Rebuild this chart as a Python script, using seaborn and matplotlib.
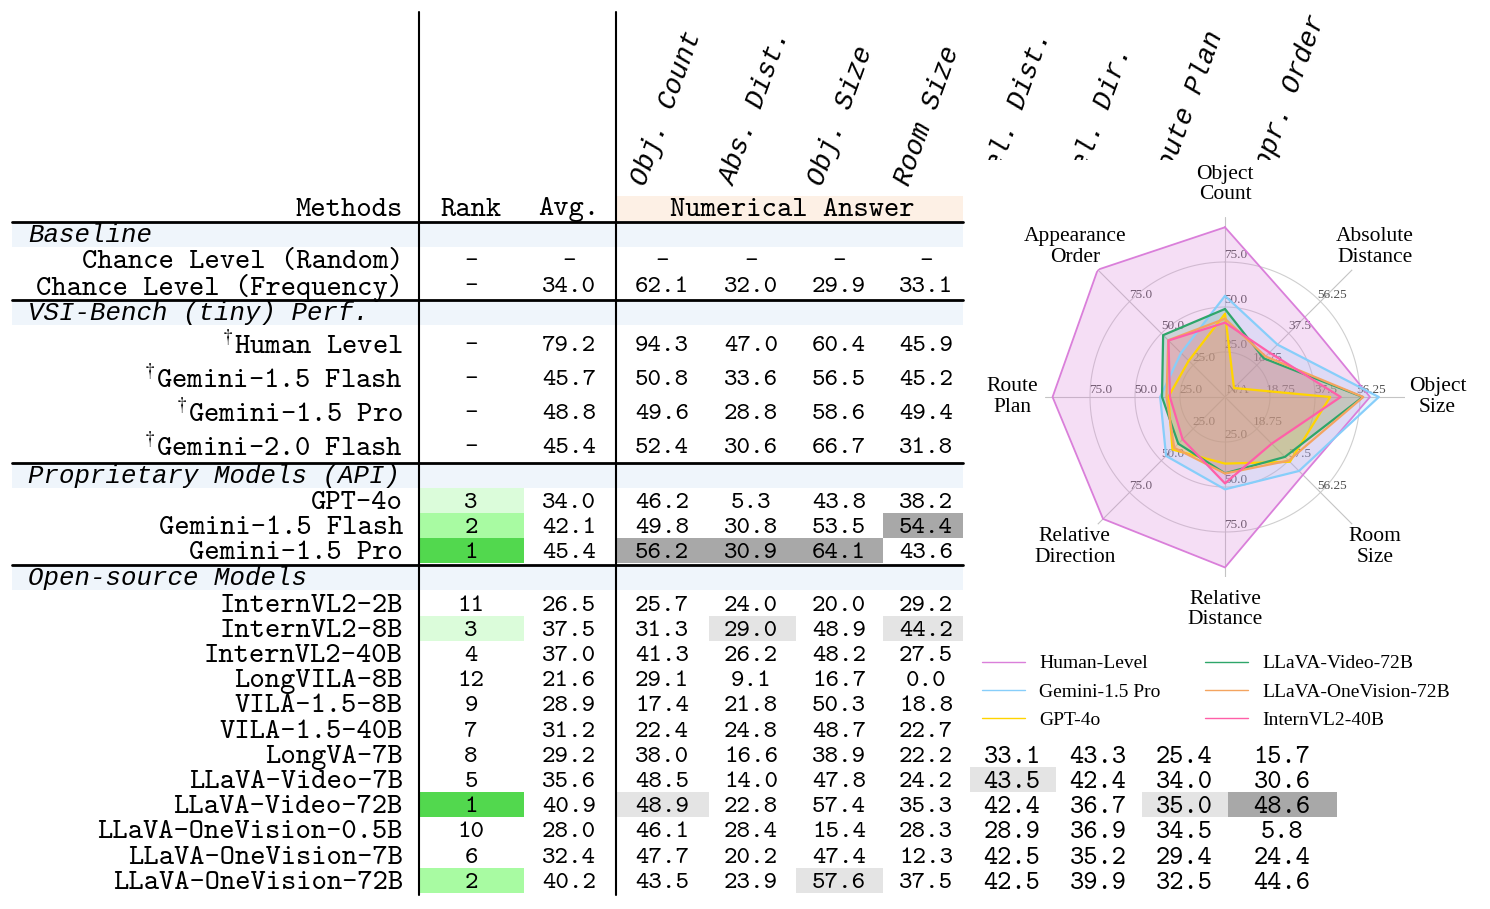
import numpy as np
import matplotlib
matplotlib.use("Agg")
import matplotlib.pyplot as plt
import seaborn as sns
from matplotlib.patches import Rectangle

sns.set_theme(style="white")
plt.rcParams["font.family"] = ["cmtt10", "DejaVu Serif"]
plt.rcParams["text.color"] = "black"
plt.rcParams["mathtext.fontset"] = "cm"
plt.rcParams["axes.unicode_minus"] = False
plt.rcParams["axes.formatter.use_mathtext"] = True

# ---------------- table data ----------------
task_headers = ["Obj. Count", "Abs. Dist.", "Obj. Size", "Room Size",
                "Rel. Dist.", "Rel. Dir.", "Route Plan", "Appr. Order"]

baseline_methods = ["Chance Level (Random)", "Chance Level (Frequency)"]
baseline_rank = [None, None]
baseline_avg = [None, 34.0]
baseline_scores = [[None, None, None, None], [62.1, 32.0, 29.9, 33.1]]

tiny_methods = ["Human Level", "Gemini-1.5 Flash", "Gemini-1.5 Pro", "Gemini-2.0 Flash"]
tiny_rank = [None, None, None, None]
tiny_avg = [79.2, 45.7, 48.8, 45.4]
tiny_scores = [[94.3, 47.0, 60.4, 45.9], [50.8, 33.6, 56.5, 45.2],
               [49.6, 28.8, 58.6, 49.4], [52.4, 30.6, 66.7, 31.8]]

api_methods = ["GPT-4o", "Gemini-1.5 Flash", "Gemini-1.5 Pro"]
api_rank = [3, 2, 1]
api_avg = [34.0, 42.1, 45.4]
api_scores = [[46.2, 5.3, 43.8, 38.2], [49.8, 30.8, 53.5, 54.4], [56.2, 30.9, 64.1, 43.6]]
api_marks = [[0, 0, 0, 0], [0, 0, 0, 2], [2, 2, 2, 0]]

open_methods = ["InternVL2-2B", "InternVL2-8B", "InternVL2-40B", "LongVILA-8B",
                "VILA-1.5-8B", "VILA-1.5-40B", "LongVA-7B", "LLaVA-Video-7B",
                "LLaVA-Video-72B", "LLaVA-OneVision-0.5B", "LLaVA-OneVision-7B",
                "LLaVA-OneVision-72B"]
open_rank = [11, 3, 4, 12, 9, 7, 8, 5, 1, 10, 6, 2]
open_avg = [26.5, 37.5, 37.0, 21.6, 28.9, 31.2, 29.2, 35.6, 40.9, 28.0, 32.4, 40.2]
open_scores = [[25.7, 24.0, 20.0, 29.2], [31.3, 29.0, 48.9, 44.2], [41.3, 26.2, 48.2, 27.5],
               [29.1, 9.1, 16.7, 0.0], [17.4, 21.8, 50.3, 18.8], [22.4, 24.8, 48.7, 22.7],
               [38.0, 16.6, 38.9, 22.2], [48.5, 14.0, 47.8, 24.2], [48.9, 22.8, 57.4, 35.3],
               [46.1, 28.4, 15.4, 28.3], [47.7, 20.2, 47.4, 12.3], [43.5, 23.9, 57.6, 37.5]]
open_marks = [[0, 0, 0, 0], [0, 1, 0, 1], [0, 0, 0, 0], [0, 0, 0, 0], [0, 0, 0, 0],
              [0, 0, 0, 0], [0, 0, 0, 0], [0, 0, 0, 0], [1, 0, 0, 0], [0, 0, 0, 0],
              [0, 0, 0, 0], [0, 0, 1, 0]]
# right-hand columns, only visible for the last six open-source rows
open_rel_scores = [[33.1, 43.3, 25.4, 15.7], [43.5, 42.4, 34.0, 30.6], [42.4, 36.7, 35.0, 48.6],
                   [28.9, 36.9, 34.5, 5.8], [42.5, 35.2, 29.4, 24.4], [42.5, 39.9, 32.5, 44.6]]
open_rel_marks = [[0, 0, 0, 0], [1, 0, 0, 0], [0, 0, 1, 2], [0, 0, 0, 0], [0, 0, 0, 0], [0, 0, 0, 0]]

# ---------------- radar data ----------------
radar_tasks = ["Object\nCount", "Absolute\nDistance", "Object\nSize", "Room\nSize",
               "Relative\nDistance", "Relative\nDirection", "Route\nPlan", "Appearance\nOrder"]
radar_max = [100, 75, 75, 75, 100, 100, 100, 100]
radar_models = ["Human-Level", "Gemini-1.5 Pro", "GPT-4o",
                "LLaVA-Video-72B", "LLaVA-OneVision-72B", "InternVL2-40B"]
human_level = [94.3, 47.0, 60.4, 45.9, 94.7, 95.8, 95.8, 100.0]
gemini_15_pro = [56.2, 30.9, 64.1, 43.6, 51.3, 46.3, 36.0, 34.6]
gpt_4o = [46.2, 5.3, 43.8, 38.2, 37.0, 41.3, 31.5, 28.5]
llava_video_72b = [48.9, 22.8, 57.4, 35.3, 42.4, 36.7, 35.0, 48.6]
llava_ov_72b = [43.5, 23.9, 57.6, 37.5, 42.5, 39.9, 32.5, 44.6]
internvl2_40b = [41.3, 26.2, 48.2, 27.5, 48.0, 33.3, 30.6, 44.4]
radar_colors = ["#DA7FDA", "#87CEFA", "#FFD400", "#2EA66A", "#F4A460", "#FF5FA8"]

# ---------------- figure ----------------
W, H = 1490, 909
fig = plt.figure(figsize=(W / 100, H / 100), dpi=100)
ax = fig.add_axes([0, 0, 1, 1])
ax.set_xlim(0, W)
ax.set_ylim(H, 0)
ax.axis("off")

FS_NAME = 21
FS_NUM = 18.5
DY = 3  # text sits a little below the row centre
x_meth, x_rank, x_avg = 403, 471, 569
col_c = [662, 751, 839, 926, 1012, 1098, 1184, 1282]
col_l = [617, 709, 796, 883, 970, 1056, 1142, 1228]
col_r = [709, 796, 883, 963, 1056, 1142, 1228, 1337]
rank_colors = {1: "#52D84E", 2: "#A8FBA2", 3: "#DBFCDA"}
mark_colors = {1: "#E4E4E4", 2: "#A8A8A8"}
band_color = "#EFF5FB"
ital = dict(family="Liberation Mono", style="italic", fontsize=18.5)


def fmt(v):
    return "-" if v is None else f"{v:.1f}"


# header
for i, name in enumerate(task_headers):
    ax.text(col_c[i] - 17, 187, name, rotation=70, rotation_mode="anchor",
            ha="left", va="baseline", family="Liberation Mono", style="italic", fontsize=19.5)
ax.add_patch(Rectangle((617, 196), 346, 25, color="#FDF0E5", lw=0, zorder=0))
ax.text(x_meth, 207 + DY, "Methods", ha="right", va="center", fontsize=FS_NAME)
ax.text(x_rank, 207 + DY, "Rank", ha="center", va="center", fontsize=FS_NAME)
ax.text(x_avg, 207 + DY, "Avg.", ha="center", va="center", fontsize=FS_NAME)
ax.text(792, 207 + DY, "Numerical Answer", ha="center", va="center", fontsize=FS_NAME)

sections = [
    ("Baseline", baseline_methods, baseline_rank, baseline_avg, baseline_scores, None, 25.3, False),
    ("VSI-Bench (tiny) Perf.", tiny_methods, tiny_rank, tiny_avg, tiny_scores, None, 34.0, True),
    ("Proprietary Models (API)", api_methods, api_rank, api_avg, api_scores, api_marks, 25.3, False),
    ("Open-source Models", open_methods, open_rank, open_avg, open_scores, open_marks, 25.2, False),
]

y = 222
for title, names, ranks, avgs, scores, marks, rh, dagger in sections:
    ax.plot([12, 963], [y, y], color="black", lw=2, zorder=4)
    ax.add_patch(Rectangle((12, y + 1), 951, 24, color=band_color, lw=0, zorder=0))
    ax.text(28, y + 13, title, ha="left", va="center", **ital)
    y += 25
    for j, name in enumerate(names):
        yc = y + rh / 2 + DY + (2 if dagger else 0)
        label = r"$^{\dagger}$" + name if dagger else name
        ax.text(x_meth, yc, label, ha="right", va="center", fontsize=FS_NAME)
        if ranks[j] in rank_colors:
            ax.add_patch(Rectangle((420, y), 104, rh, color=rank_colors[ranks[j]], lw=0, zorder=0))
        ax.text(x_rank, yc, "-" if ranks[j] is None else str(ranks[j]),
                ha="center", va="center", fontsize=FS_NUM)
        ax.text(x_avg, yc, fmt(avgs[j]), ha="center", va="center", fontsize=FS_NUM)
        for k, v in enumerate(scores[j]):
            if marks is not None and marks[j][k]:
                ax.add_patch(Rectangle((col_l[k], y), col_r[k] - col_l[k], rh,
                                       color=mark_colors[marks[j][k]], lw=0, zorder=0))
            ax.text(col_c[k], yc, fmt(v), ha="center", va="center", fontsize=FS_NUM)
        if title == "Open-source Models" and j >= len(names) - len(open_rel_scores):
            r = j - (len(names) - len(open_rel_scores))
            for k, v in enumerate(open_rel_scores[r]):
                m = open_rel_marks[r][k]
                if m:
                    ax.add_patch(Rectangle((col_l[4 + k], y), col_r[4 + k] - col_l[4 + k], rh,
                                           color=mark_colors[m], lw=0, zorder=0))
                ax.text(col_c[4 + k], yc, fmt(v), ha="center", va="center", fontsize=19.5)
        y += rh
    y += 2

for xv in (419, 616):
    ax.plot([xv, xv], [12, 895], color="black", lw=1.5, zorder=4)

# white panel carrying the radar chart
ax.add_patch(Rectangle((965, 160), 525, 582, color="white", lw=0, zorder=10))

# ---------------- radar ----------------
cx, cy, R = 1225, 397, 180
rax = fig.add_axes([(cx - R) / W, 1 - (cy + R) / H, 2 * R / W, 2 * R / H], projection="polar")
rax.set_theta_offset(np.pi / 2)
rax.set_theta_direction(-1)
rax.set_ylim(0, 100)
rax.set_xticks([])
rax.set_yticks([])
rax.grid(False)
rax.spines["polar"].set_visible(False)
rax.patch.set_alpha(0)

theta = np.arange(len(radar_tasks)) * 2 * np.pi / len(radar_tasks)
ring = np.linspace(0, 2 * np.pi, 300)
for rr in (25, 50, 75):
    rax.plot(ring, np.full_like(ring, rr), color="#CFCFCF", lw=0.8, zorder=1)
for t in theta:
    rax.plot([t, t], [0, 100], color="#C4C4C4", lw=0.8, zorder=1)

tick_sets = {100: ["25.0", "50.0", "75.0"], 75: ["18.75", "37.5", "56.25"]}
for t, m in zip(theta, radar_max):
    for rr, lab in zip((25, 50, 75), tick_sets[m]):
        rax.annotate(lab, xy=(t, rr), xytext=(8, 5), textcoords="offset points",
                     ha="center", va="center", fontsize=9.5, color="#505050",
                     family="Liberation Serif", zorder=1)
rax.annotate("N/A", xy=(0, 0), xytext=(9, 5), textcoords="offset points",
             ha="center", va="center", fontsize=9.5, color="#505050",
             family="Liberation Serif", zorder=1)

for t, lab in zip(theta, radar_tasks):
    rax.text(t, 118, lab, ha="center", va="center", fontsize=15.5,
             family="Liberation Serif", linespacing=1.1, clip_on=False)

series = [human_level, gemini_15_pro, gpt_4o, llava_video_72b, llava_ov_72b, internvl2_40b]
handles = []
for name, vals, col in zip(radar_models, series, radar_colors):
    scaled = [v / m * 100 for v, m in zip(vals, radar_max)]
    tt = np.append(theta, theta[0])
    rv = np.append(scaled, scaled[0])
    h, = rax.plot(tt, rv, color=col, lw=1.3 if name == "Human-Level" else 1.6, label=name, zorder=3)
    rax.fill(tt, rv, color=col, alpha=0.25 if name == "Human-Level" else 0.2, lw=0, zorder=2)
    handles.append(h)

leg = rax.legend(handles=handles, ncol=2, loc="upper left",
                 bbox_to_anchor=(972 / W, 1 - 645 / H), bbox_transform=fig.transFigure,
                 frameon=False, prop={"family": "Liberation Serif", "size": 14},
                 handlelength=2.2, handletextpad=0.75, columnspacing=2.3,
                 labelspacing=0.55, borderpad=0)
for ln in leg.get_lines():
    ln.set_linewidth(1.0)

fig.savefig("out.png", dpi=100, facecolor="white")
